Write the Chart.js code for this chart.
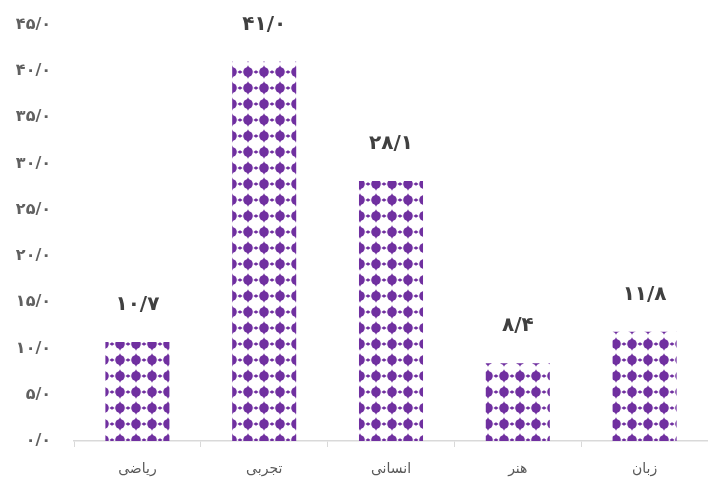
<!DOCTYPE html>
<html>
<head>
<meta charset="utf-8">
<script src="https://cdn.jsdelivr.net/npm/chart.js@4.4.1/dist/chart.umd.min.js"></script>
<style>
  html, body { margin: 0; padding: 0; background: #fff; }
  #wrap { width: 708px; height: 488px; }
</style>
</head>
<body>
<div id="wrap"><canvas id="chart" width="708" height="488"></canvas></div>
<script>
// Chart data
const categories = ['ریاضی', 'تجربی', 'انسانی', 'هنر', 'زبان'];
const values = [10.7, 41.0, 28.1, 8.4, 11.8];
const valueLabels = ['۱۰/۷', '۴۱/۰', '۲۸/۱', '۸/۴', '۱۱/۸'];
const yTickLabels = ['۰/۰', '۵/۰', '۱۰/۰', '۱۵/۰', '۲۰/۰', '۲۵/۰', '۳۰/۰', '۳۵/۰', '۴۰/۰', '۴۵/۰'];

const PURPLE = '#7030a0';

// Build the dotted purple fill used by the bars
function makePattern() {
  const c = document.createElement('canvas');
  c.width = 16;
  c.height = 16;
  const g = c.getContext('2d');
  g.fillStyle = '#fff';
  g.fillRect(0, 0, 16, 16);
  g.fillStyle = PURPLE;
  // main dot with pointed top and bottom
  g.beginPath();
  g.arc(8, 8, 4.8, 0, Math.PI * 2);
  g.fill();
  g.beginPath();
  g.moveTo(8, 1.2); g.lineTo(11.5, 8); g.lineTo(8, 14.8); g.lineTo(4.5, 8);
  g.closePath();
  g.fill();
  // small points between dots
  g.beginPath();
  g.moveTo(0, 6.3); g.lineTo(2.6, 8); g.lineTo(0, 9.7);
  g.closePath();
  g.fill();
  g.beginPath();
  g.moveTo(16, 6.3); g.lineTo(13.4, 8); g.lineTo(16, 9.7);
  g.closePath();
  g.fill();
  return g.createPattern(c, 'repeat');
}

// Draw value labels above bars
const valueLabelPlugin = {
  id: 'valueLabels',
  afterDatasetsDraw(chart) {
    const ctx = chart.ctx;
    const meta = chart.getDatasetMeta(0);
    ctx.save();
    ctx.font = 'bold 20px "DejaVu Sans"';
    ctx.fillStyle = '#404040';
    ctx.textAlign = 'center';
    ctx.textBaseline = 'middle';
    meta.data.forEach((bar, i) => {
      ctx.fillText(valueLabels[i], bar.x, bar.y - 37);
    });
    ctx.restore();
  }
};

const ctx = document.getElementById('chart').getContext('2d');
new Chart(ctx, {
  type: 'bar',
  data: {
    labels: categories,
    datasets: [{
      data: values,
      backgroundColor: makePattern(),
      borderWidth: 0,
      categoryPercentage: 1.0,
      barPercentage: 0.505
    }]
  },
  options: {
    responsive: false,
    animation: false,
    layout: { padding: { top: 24, right: 0, bottom: 0, left: 0 } },
    plugins: {
      legend: { display: false },
      tooltip: { enabled: false }
    },
    scales: {
      x: {
        grid: {
          display: true,
          drawOnChartArea: false,
          offset: true,
          tickLength: 6,
          color: '#d9d9d9'
        },
        border: { display: true, color: '#d9d9d9', width: 1.5 },
        ticks: {
          padding: 14,
          color: '#595959',
          font: { family: '"DejaVu Sans"', size: 14 }
        },
        afterFit(scale) { scale.height = 47; }
      },
      y: {
        min: 0,
        max: 45,
        grid: { display: false },
        border: { display: false },
        ticks: {
          stepSize: 5,
          padding: 15,
          color: '#606060',
          font: { family: '"DejaVu Sans"', size: 16, weight: 'bold' },
          callback: (v) => yTickLabels[Math.round(v / 5)]
        },
        afterFit(scale) { scale.width = 74; }
      }
    }
  },
  plugins: [valueLabelPlugin]
});
</script>
</body>
</html>
